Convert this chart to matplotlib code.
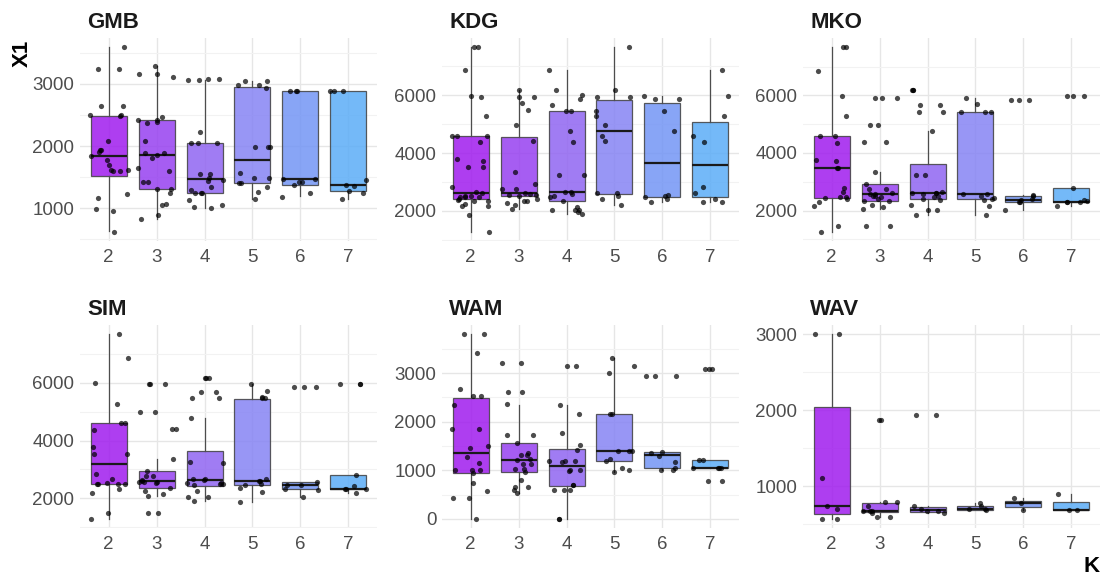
import numpy as np
import matplotlib
matplotlib.use('Agg')
import matplotlib.pyplot as plt
from matplotlib.ticker import MultipleLocator

plt.rcParams['font.family'] = ['Liberation Sans Narrow', 'Liberation Sans', 'DejaVu Sans']

K = [2, 3, 4, 5, 6, 7]
SITES = ['GMB', 'KDG', 'MKO', 'SIM', 'WAM', 'WAV']

# box stats per K: (whislo, q1, med, q3, whishi)
gmb_box = [(625, 1510, 1837, 2490, 3590), (823, 1306, 1853, 2421, 3295),
           (1005, 1252, 1472, 2056, 3070), (1150, 1407, 1772, 2946, 3043),
           (1188, 1365, 1467, 2893, 2893), (1150, 1273, 1370, 2893, 2893)]
kdg_box = [(1272, 2416, 2601, 4590, 7665), (2058, 2497, 2613, 4543, 6197),
           (1884, 2347, 2647, 5445, 6867), (2185, 2590, 4775, 5827, 7665),
           (2289, 2474, 3665, 5746, 5977), (2312, 2474, 3584, 5087, 6867)]
mko_box = [(1261, 2451, 3492, 4578, 7676), (2058, 2335, 2590, 2913, 3330),
           (1861, 2405, 2624, 3607, 4763), (1850, 2416, 2590, 5422, 5919),
           (2023, 2289, 2382, 2520, 2544), (2173, 2312, 2312, 2798, 2798)]
sim_box = [(1300, 2484, 3174, 4587, 7666), (2093, 2358, 2610, 2932, 3346),
           (1898, 2438, 2645, 3622, 4782), (1886, 2450, 2610, 5437, 5954),
           (2047, 2312, 2472, 2553, 2553), (2174, 2323, 2323, 2817, 2817)]
wam_box = [(0, 952, 1356, 2493, 3802), (534, 973, 1212, 1555, 2343),
           (0, 671, 1096, 1432, 2336), (966, 1199, 1397, 2165, 3315),
           (1014, 1055, 1308, 1370, 1384), (1055, 1055, 1055, 1219, 1219)]
wav_box = [(572, 637, 738, 2048, 3000), (598, 664, 668, 786, 799),
           (642, 655, 690, 729, 742), (686, 686, 703, 734, 773),
           (681, 725, 777, 812, 843), (681, 681, 686, 795, 900)]

# observations per K
gmb_pts = [
    [620, 3590, 3236, 3236, 2652, 2652, 2500, 2500, 2490, 2073, 1944, 1944, 1900,
     1773, 1698, 1617, 1617, 1606, 1606, 1231, 1167, 990, 958, 1837],
    [3160, 3160, 3295, 3118, 2464, 2421, 2389, 2378, 2421, 2073, 1890, 1890, 1810,
     1644, 1600, 1418, 1418, 1306, 1306, 1247, 1048, 1070, 823, 893, 1853],
    [3080, 3064, 3080, 3064, 2233, 2056, 2056, 2056, 1547, 1456, 1430, 1478, 1547,
     1338, 1295, 1252, 1252, 1252, 1134, 1048, 1011, 1005],
    [3043, 3043, 2989, 2989, 2941, 1992, 1992, 1992, 1407, 1407, 1483, 1483, 1558,
     1343, 1263, 1150],
    [2893, 2893, 2893, 1467, 1467, 1429, 1418, 1365, 1241, 1177],
    [2893, 2893, 2893, 1450, 1359, 1370, 1273, 1252, 1145],
]
kdg_pts = [
    [7665, 7665, 6867, 5977, 5954, 5272, 4590, 4590, 4590, 4370, 3734, 3780, 3503,
     3503, 2809, 2647, 2601, 2509, 2474, 2463, 2405, 2509, 2382, 2463, 2324, 2324,
     2220, 2174, 2174, 1862, 1272],
    [6197, 5954, 5954, 5503, 5723, 4971, 4405, 3341, 2925, 2752, 2752, 2520, 2543,
     2555, 2578, 2601, 2347, 2347, 2416, 2058, 2208, 2266],
    [6867, 6185, 6000, 5873, 5676, 5445, 5445, 4775, 4370, 3237, 3237, 2647, 2647,
     2590, 2497, 2486, 2324, 2139, 2035, 2035, 2035, 1884, 1942],
    [7665, 6185, 5954, 5954, 5445, 5272, 4971, 4405, 4590, 2601, 2613, 2520, 2405, 2185],
    [5977, 5861, 5861, 5445, 4775, 2543, 2393, 2289, 2520, 2486],
    [6867, 5977, 5272, 4590, 4370, 2809, 2613, 2416, 2312, 2312],
]
mko_pts = [
    [7676, 7676, 6855, 5977, 5272, 4590, 4590, 4358, 3723, 3769, 3492, 3492, 2798,
     2636, 2451, 2474, 2474, 2416, 2289, 2150, 1457, 1261],
    [5919, 5919, 5919, 4960, 4960, 4393, 4393, 3330, 2913, 2740, 2624, 2590, 2509,
     2474, 2740, 2590, 2509, 2416, 2335, 2335, 2139, 2208, 2058, 1446, 1446],
    [6173, 6173, 6173, 5434, 5434, 5665, 5665, 4763, 3226, 3226, 2636, 2567, 2613,
     2601, 2601, 2509, 2370, 2462, 2416, 2208, 2023, 2023, 1861],
    [5919, 5688, 5434, 5434, 5422, 2590, 2590, 2509, 2358, 2440, 2416, 2173, 1850],
    [5850, 5850, 5850, 2497, 2544, 2405, 2370, 2289, 2289, 2023],
    [5977, 5977, 5977, 2798, 2312, 2312, 2382, 2324, 2312, 2173],
]
sim_pts = [
    [7666, 6850, 5977, 5265, 4587, 4587, 4368, 3782, 3518, 3518, 2829, 2656, 2530,
     2484, 2484, 2484, 2484, 2323, 2185, 1507, 1300],
    [5954, 5954, 5954, 4966, 4966, 4414, 4414, 3357, 2932, 2771, 2771, 2633, 2553,
     2553, 2610, 2553, 2369, 2518, 2243, 2151, 2093, 1484, 1484],
    [6161, 6161, 6161, 5678, 5678, 5449, 5449, 4782, 3243, 3220, 2541, 2472, 2484,
     2656, 2656, 2633, 2484, 2518, 2243, 2047, 2047, 1898],
    [5954, 5713, 5506, 5449, 5449, 2610, 2656, 2610, 2507, 2461, 2369, 2208, 1886],
    [5838, 5838, 5838, 2553, 2472, 2450, 2312, 2289, 2047],
    [5965, 5965, 5965, 2817, 2427, 2323, 2323, 2323, 2174],
]
wam_pts = [
    [3802, 3802, 3411, 2678, 2528, 2535, 2343, 1843, 1843, 1500, 1452, 1274, 1158,
     1007, 1007, 1007, 938, 747, 569, 438, 438, 0],
    [3206, 3206, 2617, 2610, 2363, 1719, 1726, 1569, 1349, 1308, 1308, 1233, 1212,
     1137, 1137, 973, 1021, 1021, 795, 651, 651, 596, 534],
    [3151, 3151, 2336, 2158, 1767, 1521, 1411, 1199, 1199, 1199, 1178, 1000, 1000,
     993, 706, 706, 596, 589, 589, 0, 0],
    [3315, 3151, 2993, 2165, 2165, 1404, 1404, 1404, 1233, 1192, 1000, 966, 1048],
    [2939, 2939, 2939, 1384, 1349, 1301, 1165, 1055, 1014, 1014],
    [3089, 3089, 3089, 1206, 1219, 1055, 1055, 1055, 1055, 774, 774],
]
wav_pts = [
    [3000, 3000, 1109, 707, 738, 572, 572],
    [1869, 1869, 799, 742, 799, 668, 651, 668, 668, 598, 598],
    [1934, 1934, 742, 703, 672, 672, 642],
    [738, 773, 686, 699, 699],
    [843, 777, 686],
    [900, 686, 686],
]

boxes = [gmb_box, kdg_box, mko_box, sim_box, wam_box, wav_box]
points = [gmb_pts, kdg_pts, mko_pts, sim_pts, wam_pts, wav_pts]
major_step = [1000, 2000, 2000, 2000, 1000, 1000]

FILLS = ['#A01CEE', '#9740F0', '#9065F1', '#8684F4', '#7395F5', '#5CADF7']
W, H = 1104, 576
col_left = [80, 442, 803]
row_top = [38, 325]
pw, ph = 297, 203

fig = plt.figure(figsize=(W / 100, H / 100), dpi=100)
rng = np.random.default_rng(7)

for i, site in enumerate(SITES):
    r, c = divmod(i, 3)
    ax = fig.add_axes([col_left[c] / W, 1 - (row_top[r] + ph) / H, pw / W, ph / H])
    ax.set_axisbelow(True)

    stats = []
    for k, (lo, q1, med, q3, hi) in zip(K, boxes[i]):
        stats.append(dict(whislo=lo, q1=q1, med=med, q3=q3, whishi=hi, fliers=[], label=str(k)))
    bp = ax.bxp(stats, positions=K, widths=0.75, patch_artist=True, showfliers=False,
                showcaps=False,
                boxprops=dict(edgecolor='#404040', linewidth=0.9),
                whiskerprops=dict(color='#4d4d4d', linewidth=0.9),
                medianprops=dict(color='#1a1a1a', linewidth=1.6))
    for patch, col in zip(bp['boxes'], FILLS):
        patch.set_facecolor(col)
        patch.set_alpha(0.85)
        patch.set_edgecolor((0.25, 0.25, 0.25, 1))

    allv = []
    for k, vals in zip(K, points[i]):
        xs = k + rng.uniform(-0.4, 0.4, len(vals))
        ax.scatter(xs, vals, s=14, color='black', alpha=0.7, linewidths=0, zorder=5)
        allv += vals
    for b in boxes[i]:
        allv += [b[0], b[4]]
    lo, hi = min(allv), max(allv)
    pad = (hi - lo) * 0.05
    ax.set_ylim(lo - pad, hi + pad)
    ax.set_xlim(1.4, 7.6)

    ax.yaxis.set_major_locator(MultipleLocator(major_step[i]))
    ax.yaxis.set_minor_locator(MultipleLocator(major_step[i] / 2))
    ax.set_xticks(K)
    ax.set_xticklabels([str(k) for k in K])
    ax.grid(which='major', color='#e6e6e6', linewidth=1.0)
    ax.grid(which='minor', axis='y', color='#f2f2f2', linewidth=0.8)
    ax.tick_params(which='both', length=0, labelsize=13.5, labelcolor='#4d4d4d')
    ax.tick_params(axis='x', pad=6)
    ax.tick_params(axis='y', pad=4)
    for s in ax.spines.values():
        s.set_visible(False)
    ax.text(0.024, 1.05, site, transform=ax.transAxes, fontsize=16, fontweight='bold',
            ha='left', va='baseline', color='#1a1a1a')

fig.text(22 / W, 1 - 40 / H, 'X1', rotation=90, ha='center', va='top',
         fontsize=16, fontweight='bold')
fig.text(1100 / W, 1 - 572 / H, 'K', ha='right', va='baseline',
         fontsize=16, fontweight='bold')

fig.savefig('out.png', dpi=100, facecolor='white')
